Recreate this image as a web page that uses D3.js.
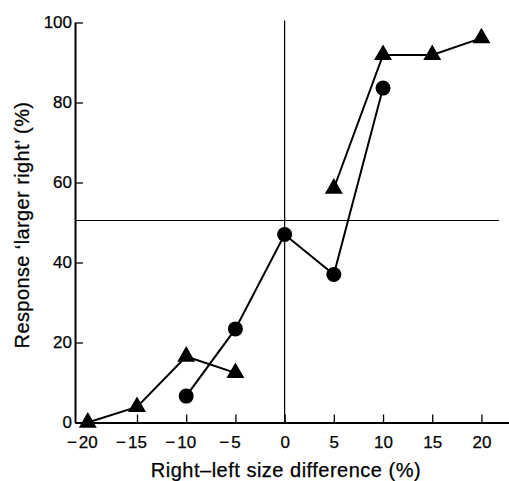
<!DOCTYPE html>
<html><head><meta charset="utf-8">
<script src="https://cdn.jsdelivr.net/npm/d3@7"></script>
<style>body{margin:0;background:#fff}svg{display:block}text{font-family:"Liberation Sans",Arial,Helvetica,sans-serif;fill:#000;stroke:#000;stroke-width:0.25px}</style>
</head><body><div id="chart"></div>
<script>
const triLeftX = [-20, -15, -10, -5];
const triLeftY = [0, 3.9, 16.5, 12.4];
const circX = [-10, -5, 0, 5, 10];
const circY = [6.6, 23.4, 47, 37, 83.6];
const triRightX = [5, 10, 15, 20];
const triRightY = [58.5, 91.9, 91.9, 96.1];
const xTicks = [-20, -15, -10, -5, 0, 5, 10, 15, 20];
const yTicks = [0, 20, 40, 60, 80, 100];
const refY = 50.5;
const refX = 0;

const W = 509, H = 481;
const svg = d3.select("#chart").append("svg").attr("width", W).attr("height", H);
const x = d3.scaleLinear().domain([-21.3, 22.8]).range([75, 509]);
const y = d3.scaleLinear().domain([0, 100]).range([422.5, 22.5]);

// x axis
const gx = svg.append("g").attr("transform", `translate(0,${y(0)})`)
  .call(d3.axisBottom(x).tickValues(xTicks).tickSizeInner(-8).tickSizeOuter(0).tickPadding(13).tickFormat(d => String(Math.abs(d))));
gx.select(".domain").attr("stroke-width", 2);
gx.selectAll(".tick line").attr("stroke-width", 1.3);
gx.selectAll(".tick text").style("font-size", "17px");
gx.selectAll(".tick").each(function(d) {
  if (d < 0) {
    const t = d3.select(this).select("text");
    const w = t.node().getBBox().width;
    d3.select(this).append("text").attr("x", -w / 2 - 2).attr("y", t.attr("y")).attr("dy", t.attr("dy"))
      .attr("text-anchor", "end").style("font-size", "17px").text("\u2212");
  }
});

// y axis
const gy = svg.append("g").attr("transform", `translate(${x.range()[0]},0)`)
  .call(d3.axisLeft(y).tickValues(yTicks).tickSizeInner(-8).tickSizeOuter(0).tickPadding(3).tickFormat(d3.format("d")));
gy.select(".domain").attr("stroke-width", 2);
gy.selectAll(".tick line").attr("stroke-width", 1.3);
gy.selectAll("text").style("font-size", "17px");

// reference lines
svg.append("line").attr("x1", x.range()[0]).attr("x2", 499).attr("y1", y(refY)).attr("y2", y(refY)).attr("stroke", "#000").attr("stroke-width", 1.2);
svg.append("line").attr("x1", x(refX)).attr("x2", x(refX)).attr("y1", y(100) - 2).attr("y2", y(0)).attr("stroke", "#000").attr("stroke-width", 1.2);

const line = d3.line().x(d => x(d[0])).y(d => y(d[1]));
const zip = (a, b) => a.map((v, i) => [v, b[i]]);
const series = [
  {pts: zip(triLeftX, triLeftY), shape: "tri"},
  {pts: zip(circX, circY), shape: "circ"},
  {pts: zip(triRightX, triRightY), shape: "tri"}
];
series.forEach(s => {
  svg.append("path").attr("d", line(s.pts)).attr("fill", "none").attr("stroke", "#000").attr("stroke-width", 2);
});
const tri = d3.symbol().type(d3.symbolTriangle).size(140);
series.forEach(s => {
  if (s.shape === "tri") {
    svg.append("g").selectAll("path").data(s.pts).join("path")
      .attr("d", tri).attr("transform", d => `translate(${x(d[0])},${y(d[1])})`).attr("fill", "#000");
  } else {
    svg.append("g").selectAll("circle").data(s.pts).join("circle")
      .attr("cx", d => x(d[0])).attr("cy", d => y(d[1])).attr("r", 7.5).attr("fill", "#000");
  }
});

svg.append("text").attr("x", 286).attr("y", 477).attr("text-anchor", "middle").style("font-size", "20px").style("letter-spacing", "0.5px").text("Right\u2013left size difference (%)");
svg.append("text").attr("transform", `translate(29,225) rotate(-90)`).attr("text-anchor", "middle").style("font-size", "20px").style("letter-spacing", "0.4px").text("Response \u2018larger right\u2019 (%)");
</script></body></html>
